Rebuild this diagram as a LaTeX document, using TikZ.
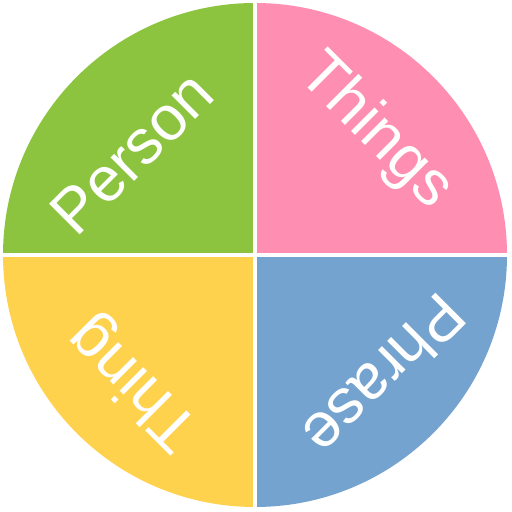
\documentclass[tikz,border=0pt]{standalone}
\usepackage{fontspec}
\setmainfont{Liberation Sans}
\definecolor{cgreen}{RGB}{140,196,64}
\definecolor{cpink}{RGB}{255,143,178}
\definecolor{cyellow}{RGB}{255,210,78}
\definecolor{cblue}{RGB}{116,163,208}
\begin{document}
\begin{tikzpicture}[x=1pt,y=1pt,
  lbl/.style={text=white,font=\fontsize{63}{65}\selectfont,inner sep=0pt}]
\useasboundingbox (0,0) rectangle (512,512);
\coordinate (c) at (255,257);
\fill[cgreen] (c) -- ++(180:252) arc[start angle=180,end angle=90,radius=252] -- cycle;
\fill[cpink] (c) -- ++(90:252) arc[start angle=90,end angle=0,radius=252] -- cycle;
\fill[cblue] (c) -- ++(0:252) arc[start angle=0,end angle=-90,radius=252] -- cycle;
\fill[cyellow] (c) -- ++(-90:252) arc[start angle=-90,end angle=-180,radius=252] -- cycle;
\draw[white,line width=3.5pt] (c) ++(-260,0) -- ++(520,0);
\draw[white,line width=3.5pt] (c) ++(0,-260) -- ++(0,520);
\node[lbl,rotate=45] (person) at (132,359) {Person};
\node[lbl,rotate=-45] (things) at (375,380) {Things};
\node[lbl,rotate=225] (phrase) at (385,136) {Phrase};
\node[lbl,rotate=135] (thing) at (135,130) {Thing};
\end{tikzpicture}
\end{document}
